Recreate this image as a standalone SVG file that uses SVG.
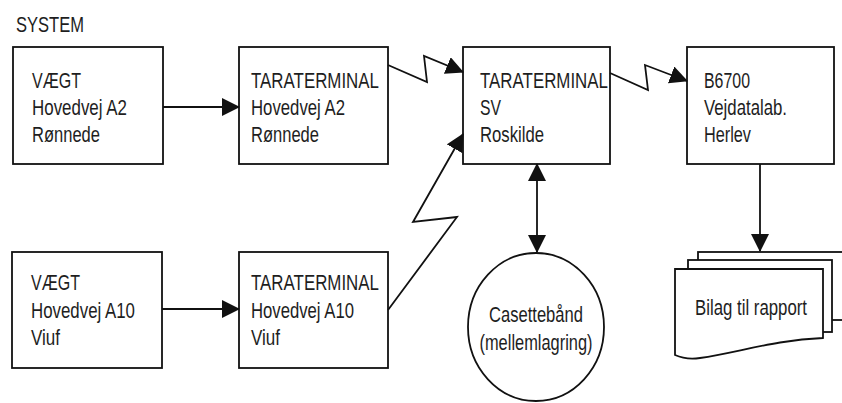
<svg xmlns="http://www.w3.org/2000/svg" width="842" height="403" viewBox="0 0 842 403">
<style>
.box{fill:#fff;stroke:#111;stroke-width:1.8}
.t{font-family:"Liberation Sans",Arial,sans-serif;font-size:22px;fill:#1e1e1e}
.c{fill:none;stroke:#111;stroke-width:1.8}
.arr{marker-end:url(#ah)}
</style>
<defs>
<marker id="ah" markerUnits="userSpaceOnUse" markerWidth="18" markerHeight="18" refX="17" refY="9" orient="auto-start-reverse">
<path d="M0,0 L18,9 L0,18 Z" fill="#111"/>
</marker>
</defs>
<rect width="842" height="403" fill="#fff"/>
<text class="t" x="16" y="32" textLength="68" lengthAdjust="spacingAndGlyphs">SYSTEM</text>

<g id="vaegt-a2">
<rect class="box" x="13" y="47" width="150" height="117"/>
<text class="t" x="32" y="88" textLength="49" lengthAdjust="spacingAndGlyphs">VÆGT</text>
<text class="t" x="32" y="115" textLength="95" lengthAdjust="spacingAndGlyphs">Hovedvej A2</text>
<text class="t" x="32" y="142" textLength="68" lengthAdjust="spacingAndGlyphs">Rønnede</text>
</g>
<g id="tara-a2">
<rect class="box" x="239" y="47" width="149" height="117"/>
<text class="t" x="251" y="88" textLength="128" lengthAdjust="spacingAndGlyphs">TARATERMINAL</text>
<text class="t" x="251" y="115" textLength="94" lengthAdjust="spacingAndGlyphs">Hovedvej A2</text>
<text class="t" x="251" y="142" textLength="68" lengthAdjust="spacingAndGlyphs">Rønnede</text>
</g>
<g id="tara-sv">
<rect class="box" x="463" y="47" width="147" height="117"/>
<text class="t" x="480" y="88" textLength="128" lengthAdjust="spacingAndGlyphs">TARATERMINAL</text>
<text class="t" x="480" y="115" textLength="21" lengthAdjust="spacingAndGlyphs">SV</text>
<text class="t" x="480" y="142" textLength="64" lengthAdjust="spacingAndGlyphs">Roskilde</text>
</g>
<g id="b6700">
<rect class="box" x="687" y="47" width="147" height="117"/>
<text class="t" x="704" y="88" textLength="46" lengthAdjust="spacingAndGlyphs">B6700</text>
<text class="t" x="704" y="115" textLength="83" lengthAdjust="spacingAndGlyphs">Vejdatalab.</text>
<text class="t" x="704" y="142" textLength="47" lengthAdjust="spacingAndGlyphs">Herlev</text>
</g>
<g id="vaegt-a10">
<rect class="box" x="12" y="252" width="150" height="116"/>
<text class="t" x="31" y="290" textLength="49" lengthAdjust="spacingAndGlyphs">VÆGT</text>
<text class="t" x="31" y="318" textLength="104" lengthAdjust="spacingAndGlyphs">Hovedvej A10</text>
<text class="t" x="31" y="345" textLength="29" lengthAdjust="spacingAndGlyphs">Viuf</text>
</g>
<g id="tara-a10">
<rect class="box" x="239" y="252" width="149" height="116"/>
<text class="t" x="251" y="290" textLength="128" lengthAdjust="spacingAndGlyphs">TARATERMINAL</text>
<text class="t" x="251" y="318" textLength="103" lengthAdjust="spacingAndGlyphs">Hovedvej A10</text>
<text class="t" x="251" y="345" textLength="29" lengthAdjust="spacingAndGlyphs">Viuf</text>
</g>
<g id="casette">
<ellipse class="box" cx="536" cy="327" rx="68" ry="74"/>
<text class="t" x="536" y="322" text-anchor="middle" textLength="94" lengthAdjust="spacingAndGlyphs">Casettebånd</text>
<text class="t" x="536" y="350" text-anchor="middle" textLength="113" lengthAdjust="spacingAndGlyphs">(mellemlagring)</text>
</g>
<g id="bilag">
<rect class="box" x="698" y="252" width="150" height="68"/>
<rect class="box" x="688" y="260" width="144" height="72"/>
<path class="box" d="M675,269 H823 V338 C775,340 740,352 700,358 Q686,360 675,355 Z"/>
<text class="t" x="695" y="315" textLength="112" lengthAdjust="spacingAndGlyphs">Bilag til rapport</text>
</g>

<g id="connectors">
<path class="c arr" d="M163,107 L239,107"/>
<path class="c arr" d="M162,309 L239,309"/>
<path class="c arr" d="M388,65 L427,82 L424,56 L463,72"/>
<path class="c arr" d="M610,73 L648,90 L645,65 L687,81"/>
<path class="c arr" d="M388,310 L457,217 L413,222 L463,134"/>
<path class="c arr" d="M537,164 L537,252" marker-start="url(#ah)"/>
<path class="c arr" d="M760,164 L760,251"/>
</g>
</svg>
